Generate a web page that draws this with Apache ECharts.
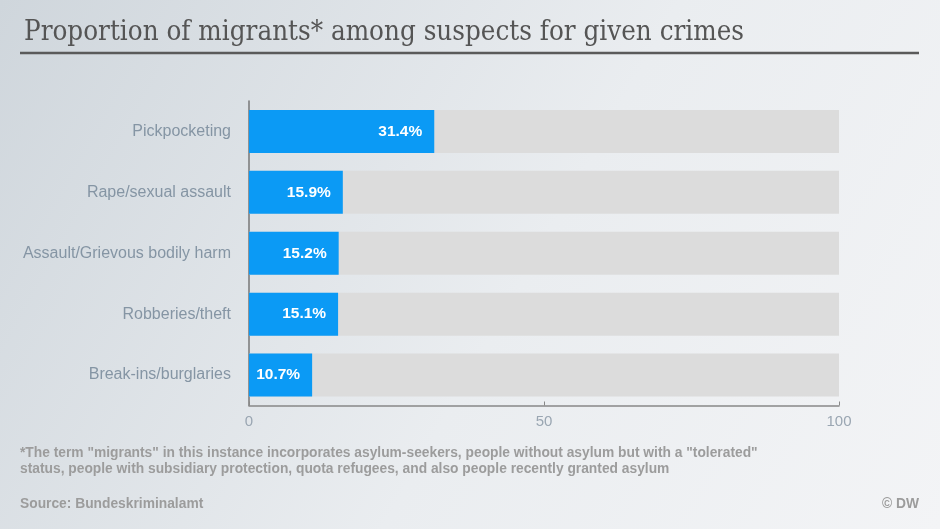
<!DOCTYPE html>
<html><head><meta charset="utf-8">
<script src="https://cdn.jsdelivr.net/npm/echarts@6/dist/echarts.min.js"></script>
<style>html,body{margin:0;padding:0;}#c{width:940px;height:529px;}</style>
</head><body><div id="c"></div>
<script>
const categories = ["Pickpocketing","Rape/sexual assault","Assault/Grievous bodily harm","Robberies/theft","Break-ins/burglaries"];
const values = [31.4, 15.9, 15.2, 15.1, 10.7];
const ticks = [0, 50, 100];

const noteFont = 'bold 13.8px "Liberation Sans Narrow", "Liberation Sans", Arial';
const chart = echarts.init(document.getElementById('c'));
chart.setOption({
  backgroundColor: new echarts.graphic.LinearGradient(0, 0, 1, 1, [
    {offset: 0, color: '#cfd6dc'},
    {offset: 0.55, color: '#eaedf0'},
    {offset: 1, color: '#f3f4f6'}
  ]),
  animation: false,
  title: {
    text: 'Proportion of migrants* among suspects for given crimes',
    left: 19, top: 14,
    textStyle: {fontFamily: '"DejaVu Serif Condensed", "DejaVu Serif"', fontWeight: 'normal', fontSize: 27.5, color: '#555555'}
  },
  graphic: [
    {type: 'line', shape: {x1: 20, y1: 53, x2: 919, y2: 53}, style: {stroke: '#5a5a5a', lineWidth: 2.5}},
    {type: 'text', left: 20, top: 445, style: {
      text: '*The term "migrants" in this instance incorporates asylum-seekers, people without asylum but with a "tolerated"\nstatus, people with subsidiary protection, quota refugees, and also people recently granted asylum',
      font: noteFont, fill: '#9c9c9c', lineHeight: 16}},
    {type: 'text', left: 20, top: 496, style: {text: 'Source: Bundeskriminalamt', font: noteFont, fill: '#9c9c9c', lineHeight: 16}},
    {type: 'text', right: 21, top: 496, style: {text: '© DW', font: noteFont, fill: '#9c9c9c', lineHeight: 16}}
  ],
  grid: {left: 249, right: 101, top: 101, bottom: 123.5},
  xAxis: {
    type: 'value', min: 0, max: 100, interval: 50,
    axisLine: {show: true, lineStyle: {color: '#888888', width: 1.5}},
    axisTick: {show: true, length: 4, inside: true, lineStyle: {color: '#888888'}},
    splitLine: {show: false},
    axisLabel: {color: '#9aa6b2', fontSize: 15, fontFamily: 'Liberation Sans', margin: 9,
      formatter: v => ticks.includes(v) ? String(v) : ''}
  },
  yAxis: {
    type: 'category', data: categories, inverse: true,
    axisLine: {show: true, lineStyle: {color: '#777777', width: 1.5}},
    axisTick: {show: false},
    axisLabel: {color: '#8595a4', fontSize: 16, fontFamily: 'Liberation Sans', margin: 18,
      padding: [0, 0, 3, 0]}
  },
  series: [{
    type: 'bar', data: values, barWidth: 43,
    itemStyle: {color: '#0b9af5'},
    showBackground: true,
    backgroundStyle: {color: '#dcdcdc'},
    label: {show: true, position: 'insideRight', distance: 12, color: '#ffffff', fontWeight: 'bold', fontSize: 15.5,
      fontFamily: 'Liberation Sans', formatter: p => p.value.toFixed(1) + '%'}
  }]
});
</script></body></html>
